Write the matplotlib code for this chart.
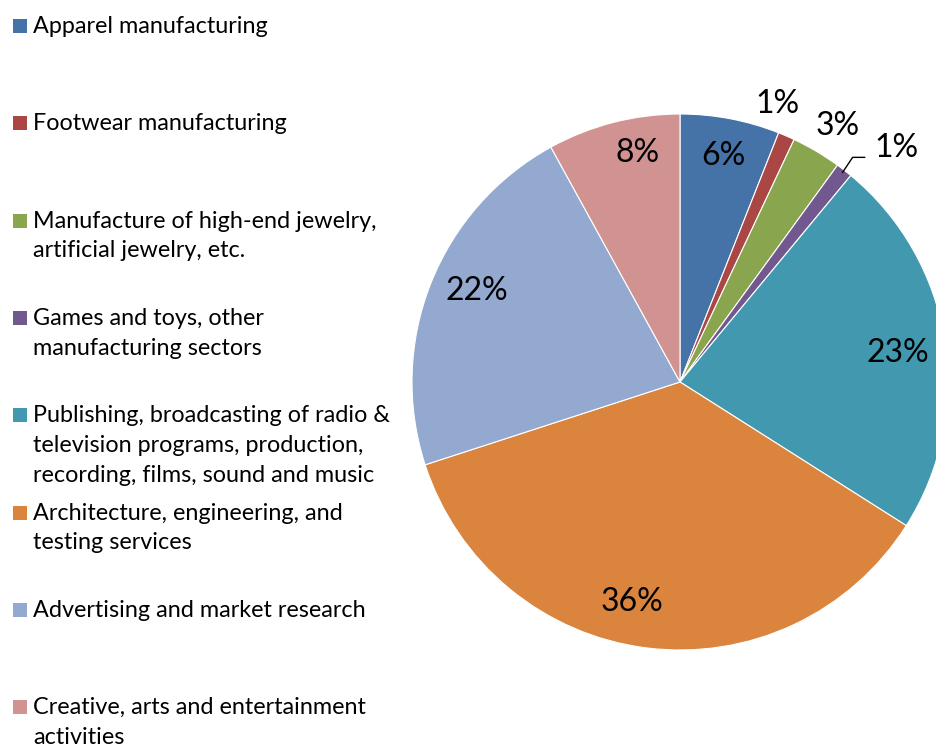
import numpy as np
import matplotlib.pyplot as plt
from matplotlib.patches import Rectangle

# Sector shares (percent)
sectors = [
    "Apparel manufacturing",
    "Footwear manufacturing",
    "Manufacture of high-end jewelry,\nartificial jewelry, etc.",
    "Games and toys, other\nmanufacturing sectors",
    "Publishing, broadcasting of radio &\ntelevision programs, production,\nrecording, films, sound and music",
    "Architecture, engineering, and\ntesting services",
    "Advertising and market research",
    "Creative, arts and entertainment\nactivities",
]
shares = [6, 1, 3, 1, 23, 36, 22, 8]
colors = ["#4572A7", "#AA4643", "#89A54E", "#71588F",
          "#4198AF", "#DB843D", "#93A9CF", "#D19392"]

# label placement: radius as fraction of pie radius, small angle nudge (deg)
lab_r = [0.86, 1.10, 1.12, 1.19, 0.82, 0.84, 0.83, 0.87]
lab_da = [0, 4, -1, -5, -1.5, -5, -2.5, -4]

W, H = 936, 744
fig = plt.figure(figsize=(W / 100, H / 100), dpi=100)
ax = fig.add_axes([0, 0, 1, 1])
ax.set_xlim(0, W)
ax.set_ylim(0, H)
ax.set_aspect("equal")
ax.axis("off")

cx, cy, R = 680, H - 382, 268
wedges, _ = ax.pie(shares, colors=colors, startangle=90, counterclock=False,
                   center=(cx, cy), radius=R,
                   wedgeprops=dict(edgecolor="white", linewidth=0.8))
ax.set_xlim(0, W)
ax.set_ylim(0, H)

font = "Lato"
for i, w in enumerate(wedges):
    mid = np.deg2rad((w.theta1 + w.theta2) / 2 + lab_da[i])
    x = cx + R * lab_r[i] * np.cos(mid)
    y = cy + R * lab_r[i] * np.sin(mid)
    ax.text(x, y, f"{shares[i]}%", ha="center", va="center",
            fontsize=23, family=font, color="black")
    if i == 3:
        # leader line for the thin games slice
        a = np.deg2rad((w.theta1 + w.theta2) / 2)
        x0, y0 = cx + R * 0.99 * np.cos(a), cy + R * 0.99 * np.sin(a)
        ax.plot([x0, x0 + 10, x0 + 22], [y0, y0 + 15, y0 + 15],
                color="black", lw=1)

# legend down the left side
pitch = 97.3
for i, name in enumerate(sectors):
    ytop = H - (26 + i * pitch)
    ax.add_patch(Rectangle((13, ytop - 7), 14, 14, facecolor=colors[i],
                           edgecolor="none"))
    ax.text(33, ytop + 10, name, ha="left", va="top", fontsize=16.8,
            family=font, color="black", linespacing=1.52)

fig.savefig("out.png", dpi=100)
